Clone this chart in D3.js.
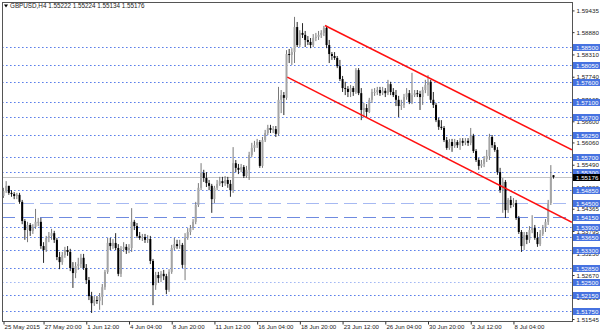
<!DOCTYPE html>
<html><head><meta charset="utf-8">
<script src="https://cdn.jsdelivr.net/npm/d3@7"></script>
<style>
body{margin:0;background:#fff;}
svg{display:block;font-family:"Liberation Sans",Arial,sans-serif;}
</style>
</head><body>
<svg id="chart" width="600" height="333"></svg>
<script>
const symbolTitle = "GBPUSD,H4";
const lastQuote = ["1.55222","1.55224","1.55134","1.55176"];

const open = [1.5469,1.5482,1.5495,1.5477,1.5474,1.5469,1.5472,1.5454,1.5405,1.5382,
1.5395,1.5380,1.5390,1.5403,1.5403,1.5341,1.5331,1.5362,1.5367,1.5374,
1.5357,1.5313,1.5300,1.5318,1.5331,1.5326,1.5285,1.5272,1.5290,1.5295,
1.5311,1.5285,1.5254,1.5213,1.5195,1.5203,1.5201,1.5211,1.5236,1.5275,
1.5349,1.5341,1.5349,1.5336,1.5270,1.5334,1.5339,1.5331,1.5336,1.5403,
1.5392,1.5367,1.5362,1.5364,1.5357,1.5359,1.5303,1.5241,1.5267,1.5259,
1.5270,1.5264,1.5229,1.5275,1.5336,1.5346,1.5341,1.5344,1.5293,1.5362,
1.5377,1.5387,1.5403,1.5446,1.5490,1.5528,1.5515,1.5502,1.5495,1.5461,
1.5490,1.5500,1.5507,1.5502,1.5510,1.5500,1.5484,1.5553,1.5541,1.5536,
1.5543,1.5520,1.5536,1.5574,1.5592,1.5599,1.5607,1.5546,1.5612,1.5630,
1.5643,1.5638,1.5640,1.5628,1.5715,1.5727,1.5720,1.5832,1.5830,1.5837,
1.5901,1.5855,1.5886,1.5881,1.5868,1.5863,1.5855,1.5873,1.5876,1.5881,
1.5886,1.5899,1.5855,1.5832,1.5827,1.5822,1.5801,1.5768,1.5745,1.5743,
1.5735,1.5745,1.5735,1.5791,1.5732,1.5689,1.5694,1.5684,1.5715,1.5735,
1.5735,1.5740,1.5732,1.5738,1.5732,1.5755,1.5735,1.5727,1.5715,1.5699,
1.5702,1.5722,1.5732,1.5709,1.5727,1.5732,1.5730,1.5722,1.5740,1.5753,
1.5761,1.5715,1.5702,1.5663,1.5646,1.5643,1.5612,1.5592,1.5607,1.5597,
1.5607,1.5599,1.5610,1.5605,1.5610,1.5605,1.5623,1.5584,1.5561,1.5546,
1.5551,1.5564,1.5571,1.5620,1.5599,1.5587,1.5530,1.5484,1.5505,1.5433,
1.5459,1.5446,1.5451,1.5413,1.5377,1.5341,1.5369,1.5357,1.5382,1.5387,
1.5362,1.5346,1.5372,1.5387,1.5403,1.5451,1.55222];

const high = [1.5490,1.5507,1.5495,1.5484,1.5479,1.5477,1.5477,1.5459,1.5410,1.5403,
1.5400,1.5397,1.5436,1.5413,1.5413,1.5351,1.5367,1.5377,1.5385,1.5380,
1.5362,1.5326,1.5326,1.5339,1.5341,1.5334,1.5300,1.5300,1.5311,1.5321,
1.5321,1.5295,1.5262,1.5224,1.5213,1.5213,1.5221,1.5244,1.5280,1.5362,
1.5362,1.5359,1.5374,1.5346,1.5341,1.5351,1.5346,1.5346,1.5438,1.5408,
1.5400,1.5377,1.5372,1.5372,1.5369,1.5367,1.5308,1.5275,1.5275,1.5277,
1.5280,1.5270,1.5282,1.5344,1.5362,1.5357,1.5357,1.5349,1.5374,1.5387,
1.5395,1.5410,1.5454,1.5502,1.5553,1.5536,1.5530,1.5510,1.5500,1.5495,
1.5510,1.5518,1.5518,1.5520,1.5518,1.5510,1.5594,1.5561,1.5551,1.5551,
1.5548,1.5546,1.5582,1.5605,1.5610,1.5615,1.5612,1.5620,1.5638,1.5651,
1.5651,1.5648,1.5648,1.5748,1.5740,1.5735,1.5842,1.5845,1.5847,1.5927,
1.5914,1.5893,1.5911,1.5891,1.5878,1.5873,1.5883,1.5886,1.5891,1.5893,
1.5904,1.5904,1.5868,1.5837,1.5837,1.5827,1.5817,1.5776,1.5761,1.5750,
1.5753,1.5750,1.5796,1.5796,1.5745,1.5707,1.5704,1.5720,1.5743,1.5745,
1.5748,1.5748,1.5748,1.5745,1.5766,1.5761,1.5745,1.5740,1.5725,1.5715,
1.5730,1.5745,1.5740,1.5784,1.5740,1.5740,1.5738,1.5748,1.5766,1.5778,
1.5766,1.5735,1.5707,1.5669,1.5663,1.5648,1.5620,1.5615,1.5615,1.5615,
1.5612,1.5617,1.5617,1.5617,1.5617,1.5643,1.5628,1.5589,1.5566,1.5561,
1.5571,1.5587,1.5628,1.5625,1.5607,1.5594,1.5541,1.5515,1.5510,1.5464,
1.5469,1.5464,1.5459,1.5418,1.5382,1.5377,1.5377,1.5392,1.5420,1.5395,
1.5377,1.5382,1.5395,1.5410,1.5459,1.5548,1.55224];

const low = [1.5464,1.5477,1.5472,1.5467,1.5461,1.5461,1.5449,1.5397,1.5357,1.5351,
1.5367,1.5372,1.5385,1.5392,1.5334,1.5298,1.5326,1.5351,1.5357,1.5349,
1.5305,1.5282,1.5293,1.5311,1.5316,1.5277,1.5234,1.5259,1.5280,1.5285,
1.5280,1.5244,1.5203,1.5170,1.5188,1.5193,1.5178,1.5190,1.5229,1.5270,
1.5331,1.5334,1.5331,1.5264,1.5262,1.5326,1.5321,1.5323,1.5326,1.5382,
1.5362,1.5357,1.5354,1.5349,1.5349,1.5295,1.5190,1.5229,1.5247,1.5249,
1.5254,1.5218,1.5224,1.5270,1.5331,1.5334,1.5334,1.5285,1.5254,1.5357,
1.5369,1.5382,1.5397,1.5441,1.5484,1.5505,1.5492,1.5484,1.5426,1.5451,
1.5484,1.5495,1.5492,1.5495,1.5490,1.5467,1.5477,1.5530,1.5525,1.5530,
1.5515,1.5515,1.5510,1.5569,1.5582,1.5592,1.5541,1.5541,1.5607,1.5625,
1.5630,1.5630,1.5620,1.5623,1.5681,1.5676,1.5715,1.5809,1.5804,1.5809,
1.5850,1.5850,1.5873,1.5850,1.5855,1.5847,1.5850,1.5865,1.5868,1.5873,
1.5878,1.5847,1.5809,1.5817,1.5817,1.5796,1.5763,1.5735,1.5727,1.5722,
1.5722,1.5725,1.5730,1.5727,1.5663,1.5671,1.5671,1.5681,1.5707,1.5725,
1.5727,1.5725,1.5727,1.5722,1.5727,1.5727,1.5722,1.5699,1.5671,1.5689,
1.5694,1.5715,1.5704,1.5704,1.5722,1.5722,1.5689,1.5702,1.5732,1.5725,
1.5707,1.5694,1.5658,1.5638,1.5638,1.5607,1.5587,1.5587,1.5582,1.5592,
1.5592,1.5587,1.5597,1.5599,1.5597,1.5599,1.5579,1.5556,1.5536,1.5541,
1.5543,1.5556,1.5561,1.5592,1.5582,1.5523,1.5477,1.5426,1.5413,1.5426,
1.5438,1.5441,1.5408,1.5372,1.5326,1.5331,1.5346,1.5349,1.5374,1.5357,
1.5339,1.5341,1.5367,1.5377,1.5395,1.5446,1.55134];

const close = [1.5482,1.5495,1.5477,1.5474,1.5469,1.5472,1.5454,1.5405,1.5382,1.5395,
1.5380,1.5390,1.5403,1.5403,1.5341,1.5331,1.5362,1.5367,1.5374,1.5357,
1.5313,1.5300,1.5318,1.5331,1.5326,1.5285,1.5272,1.5290,1.5295,1.5311,
1.5285,1.5254,1.5213,1.5195,1.5203,1.5201,1.5211,1.5236,1.5275,1.5349,
1.5341,1.5349,1.5336,1.5270,1.5334,1.5339,1.5331,1.5336,1.5403,1.5392,
1.5367,1.5362,1.5364,1.5357,1.5359,1.5303,1.5241,1.5267,1.5259,1.5270,
1.5264,1.5229,1.5275,1.5336,1.5346,1.5341,1.5344,1.5293,1.5362,1.5377,
1.5387,1.5403,1.5446,1.5490,1.5528,1.5515,1.5502,1.5495,1.5461,1.5490,
1.5500,1.5507,1.5502,1.5510,1.5500,1.5484,1.5553,1.5541,1.5536,1.5543,
1.5520,1.5536,1.5574,1.5592,1.5599,1.5607,1.5546,1.5612,1.5630,1.5643,
1.5638,1.5640,1.5628,1.5715,1.5727,1.5720,1.5832,1.5830,1.5837,1.5901,
1.5855,1.5886,1.5881,1.5868,1.5863,1.5855,1.5873,1.5876,1.5881,1.5886,
1.5899,1.5855,1.5832,1.5827,1.5822,1.5801,1.5768,1.5745,1.5743,1.5735,
1.5745,1.5735,1.5791,1.5732,1.5689,1.5694,1.5684,1.5715,1.5735,1.5735,
1.5740,1.5732,1.5738,1.5732,1.5755,1.5735,1.5727,1.5715,1.5699,1.5702,
1.5722,1.5732,1.5709,1.5727,1.5732,1.5730,1.5722,1.5740,1.5753,1.5761,
1.5715,1.5702,1.5663,1.5646,1.5643,1.5612,1.5592,1.5607,1.5597,1.5607,
1.5599,1.5610,1.5605,1.5610,1.5605,1.5623,1.5584,1.5561,1.5546,1.5551,
1.5564,1.5571,1.5620,1.5599,1.5587,1.5530,1.5484,1.5505,1.5433,1.5459,
1.5446,1.5451,1.5413,1.5377,1.5341,1.5369,1.5357,1.5382,1.5387,1.5362,
1.5346,1.5372,1.5387,1.5403,1.5451,1.5518,1.55176];

const dateTickBars = [0,15,31,47,63,79,95,111,127,143,159,175,191];
const dateTickLabels = ["25 May 2015","27 May 20:00","1 Jun 12:00","4 Jun 04:00","8 Jun 20:00","11 Jun 12:00","16 Jun 04:00","18 Jun 20:00","23 Jun 12:00","26 Jun 04:00","30 Jun 20:00","3 Jul 12:00","8 Jul 04:00"];

const priceTicks = [1.59435,1.58880,1.58310,1.57740,1.57165,1.56600,1.56060,1.55490,1.54920,1.54365,1.53795,1.53230,1.52670,1.52095,1.51545];

const dottedLevels = [1.5850,1.5805,1.5760,1.5710,1.5670,1.5625,1.5570,1.5530,1.5485,1.5390,1.5365,1.5330,1.5285,1.5215,1.5175];
const lightDottedLevels = [1.5250];
const lightDashedLevels = [1.5450];
const dashedLevels = [1.5415];
const currentPrice = 1.55176;

const channelUpper = [[120.4,1.5905],[212.9,1.5587]];
const channelLower = [[106.3,1.5773],[212.9,1.5402]];

// ---------- drawing ----------
const svg = d3.select("#chart");
const L = 2, T = 2, R = 572, B = 321;

const x = d3.scaleLinear().domain([0, 206]).range([3.5, 553.5]);
const y = d3.scaleLinear().domain([1.5175, 1.585]).range([311, 47]);
const py = p => Math.round(y(p)) + 0.5;

svg.append("defs").append("clipPath").attr("id","plot")
  .append("rect").attr("x",L).attr("y",T).attr("width",R-L).attr("height",B-T);

const plot = svg.append("g").attr("clip-path","url(#plot)");

function hline(levels, color, dash){
  plot.selectAll(null).data(levels).enter().append("line")
    .attr("x1",L).attr("x2",R).attr("y1",d=>py(d)).attr("y2",d=>py(d))
    .attr("stroke",color).attr("stroke-width",1).attr("stroke-dasharray",dash);
}
hline(dottedLevels, "#5b7fea", "1.6,2.4");
hline(lightDottedLevels, "#a3b8f4", "1.6,2.4");
hline(lightDashedLevels, "#a6b9f2", "13,6");
hline(dashedLevels, "#6f8be0", "13,6");

// current price line
plot.append("line").attr("x1",L).attr("x2",R)
  .attr("y1",py(currentPrice)).attr("y2",py(currentPrice))
  .attr("stroke","#c4c4c4").attr("stroke-width",1).attr("shape-rendering","crispEdges");

// candles
const idx = d3.range(open.length);
const candles = plot.selectAll("g.c").data(idx).enter().append("g");
candles.append("line")
  .attr("x1",i=>x(i)).attr("x2",i=>x(i))
  .attr("y1",i=>y(Math.max(high[i],open[i],close[i])))
  .attr("y2",i=>y(Math.min(low[i],open[i],close[i])))
  .attr("stroke",i=>close[i]>=open[i]?"#6a6a6a":"#111")
  .attr("stroke-width",0.9);
candles.append("rect")
  .attr("x",i=>x(i)-1)
  .attr("width",2)
  .attr("y",i=>y(Math.max(open[i],close[i])))
  .attr("height",i=>Math.max(1, Math.abs(y(open[i])-y(close[i]))))
  .attr("fill",i=>close[i]>=open[i]?"#a4a4a4":"#000");

// channel
const line = d3.line().x(d=>x(d[0])).y(d=>y(d[1]));
[channelUpper, channelLower].forEach(c=>{
  plot.append("path").attr("d",line(c)).attr("fill","none")
    .attr("stroke","#ff1010").attr("stroke-width",1.5);
});

// frame
svg.append("rect").attr("x",L+0.5).attr("y",T+0.5).attr("width",R-L).attr("height",B-T)
  .attr("fill","none").attr("stroke","#555").attr("stroke-width",1).attr("shape-rendering","crispEdges");

// right price axis
const yAxis = d3.axisRight(y).tickValues(priceTicks).tickSize(2).tickPadding(2)
  .tickFormat(d3.format(".5f"));
const ga = svg.append("g").attr("transform",`translate(${R+0.5},0)`).call(yAxis);
ga.select(".domain").remove();
ga.selectAll("line").attr("stroke","#333");
ga.selectAll("text").attr("font-size","6.2px").attr("fill","#222")
  .attr("font-family","Liberation Sans, Arial, sans-serif");

// level label boxes (drawn over the scale, as in the terminal)
const allLevels = dottedLevels.concat(lightDottedLevels, lightDashedLevels, dashedLevels);
const lab = svg.append("g");
lab.selectAll(null).data(allLevels).enter().append("rect")
  .attr("x",R+1).attr("y",d=>Math.round(y(d))-3).attr("width",28).attr("height",7)
  .attr("fill","#4672e0");
lab.selectAll(null).data(allLevels).enter().append("text")
  .attr("x",R+4).attr("y",d=>Math.round(y(d))+2.6)
  .attr("font-size","6.2px").attr("fill","#fff")
  .text(d=>d3.format(".5f")(d));
lab.append("rect").attr("x",R+1).attr("y",Math.round(y(currentPrice))-3).attr("width",28).attr("height",7)
  .attr("fill","#000");
lab.append("text").attr("x",R+4).attr("y",Math.round(y(currentPrice))+2.6)
  .attr("font-size","6.2px").attr("fill","#fff").text(d3.format(".5f")(currentPrice));

// bottom date axis
const xAxis = d3.axisBottom(x).tickValues(dateTickBars).tickSize(3).tickPadding(1)
  .tickFormat((d,i)=>dateTickLabels[i]);
const gx = svg.append("g").attr("transform",`translate(0,${B+0.5})`).call(xAxis);
gx.select(".domain").remove();
gx.selectAll("line").attr("stroke","#333");
gx.selectAll("text").attr("text-anchor","start").attr("dx","0.6").attr("dy","0.55em")
  .attr("font-size","6.1px").attr("fill","#222")
  .attr("font-family","Liberation Sans, Arial, sans-serif");

// title
svg.append("path").attr("d","M4,4.5 L8,4.5 L6,7.5 Z").attr("fill","#000");
svg.append("text").attr("x",10).attr("y",8.4).attr("font-size","6.3px").attr("fill","#222")
  .text(symbolTitle + "  " + lastQuote.join(" "));
</script>
</body></html>
